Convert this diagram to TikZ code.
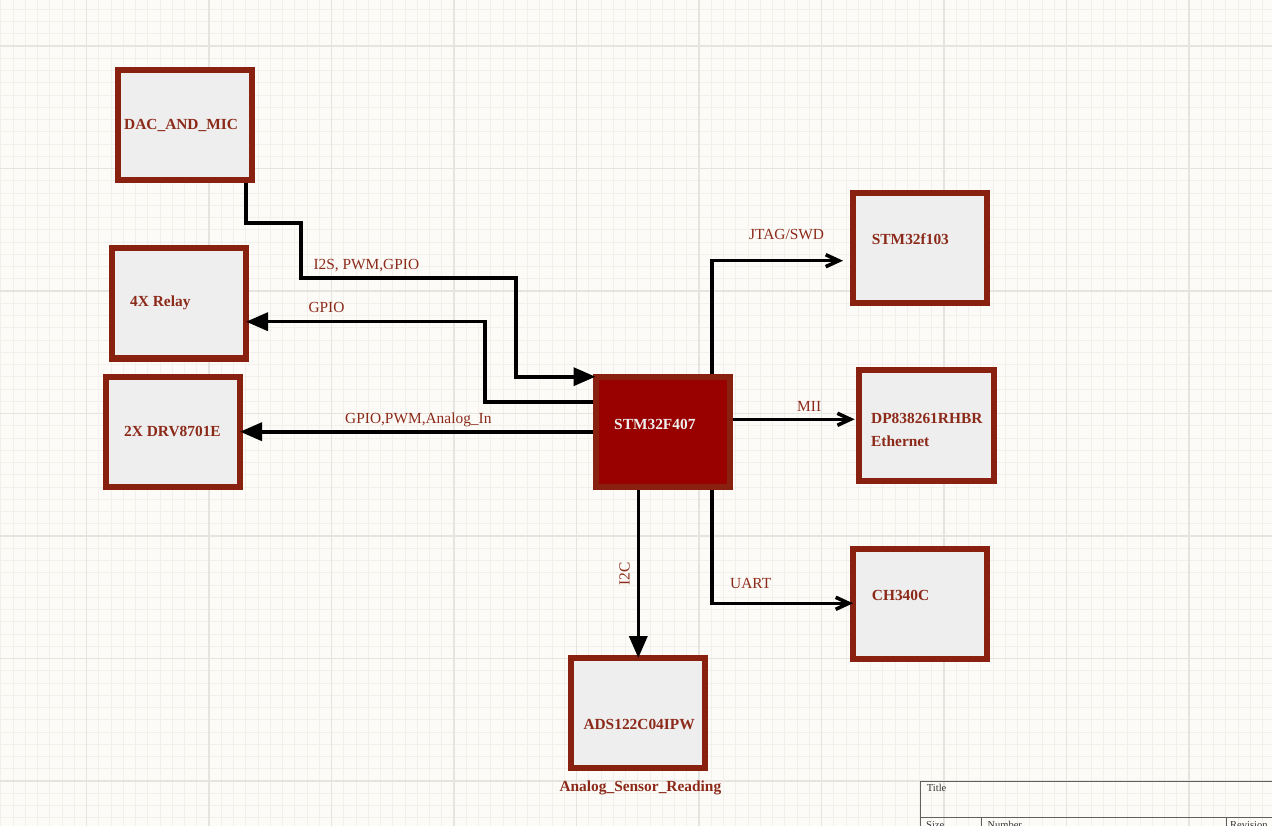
\documentclass[tikz,border=0pt]{standalone}
\usepackage{fontspec}
\setmainfont{Liberation Serif}
\usetikzlibrary{arrows.meta,calc}
\definecolor{bgc}{HTML}{FDFBF7}
\definecolor{minc}{HTML}{F2F0EB}
\definecolor{majc}{HTML}{E6E4DF}
\definecolor{brd}{HTML}{88210F}
\definecolor{boxf}{HTML}{EEEEEE}
\definecolor{mcuf}{HTML}{990000}
\definecolor{lblc}{HTML}{8C2A1A}
\definecolor{tbc}{HTML}{606060}
\tikzset{
  blk/.style={draw=brd, fill=boxf, line width=6pt, minimum width=134pt, minimum height=110pt, inner sep=0pt},
  mcu/.style={blk, fill=mcuf},
  lbl/.style={text=lblc, inner sep=0pt, font=\fontsize{15.4}{18}\selectfont},
  blbl/.style={lbl, font=\fontsize{15.4}{18}\selectfont\bfseries},
  tbt/.style={text=black!80, inner sep=0pt, font=\fontsize{10.5}{12}\selectfont},
  wire/.style={draw=black, line width=3.6pt, line join=miter},
  fa/.style={-{Triangle[length=22pt,width=18pt]}},
  oa/.style={-{Straight Barb[length=13pt,width=12pt]}},
  minorgrid/.style={draw=minc, line width=0.8pt},
  majorgrid/.style={draw=majc, line width=1.1pt},
  tbline/.style={draw=tbc, line width=1pt}
}
\begin{document}
\begin{tikzpicture}[x=1pt,y=-1pt]
\useasboundingbox (0,0) rectangle (1272,826);
\fill[bgc] (0,0) rectangle (1272,826);
\foreach \i in {0,...,103} \draw[minorgrid] ({0.75+12.25*\i},0) -- ({0.75+12.25*\i},826);
\foreach \j in {0,...,67} \draw[minorgrid] (0,{9.25+12.25*\j}) -- (1272,{9.25+12.25*\j});
\foreach \i in {0,...,9} \draw[majorgrid] ({86.5+122.5*\i},0) -- ({86.5+122.5*\i},826);
\foreach \j in {0,...,6} \draw[majorgrid] (0,{46+122.5*\j}) -- (1272,{46+122.5*\j});

% title block
\draw[tbline] (1280,781.7) -- (920,781.7) -- (920,830);
\draw[tbline] (920,817.3) -- (1280,817.3);
\draw[tbline] (981.7,817.3) -- (981.7,830);
\draw[tbline] (1226,817.3) -- (1226,830);
\node[tbt, anchor=base west] (tbtitle) at (926.7,791.7) {Title};
\node[tbt, anchor=base west] (tbsize) at (926,828) {Size};
\node[tbt, anchor=base west] (tbnum) at (987.3,828) {Number};
\node[tbt, anchor=base west] (tbrev) at (1230,828) {Revision};

% blocks
\node[blk] (dac) at (185,125.5) {};
\node[blk] (relay) at (179,303.5) {};
\node[blk] (drv) at (173,432.2) {};
\node[mcu] (stm) at (662.5,432.2) {};
\node[blk] (f103) at (920,248) {};
\node[blk, minimum width=135pt, minimum height=111.3pt] (dp) at (926.2,425.3) {};
\node[blk] (ch) at (920,604) {};
\node[blk] (ads) at (638.3,713) {};

% block texts
\node[blbl, anchor=base west] (tdac) at (124,129.3) {DAC\_AND\_MIC};
\node[blbl, anchor=base west] (trelay) at (130,307) {4X Relay};
\node[blbl, anchor=base west] (tdrv) at (124,436) {2X DRV8701E};
\node[blbl, anchor=base west, text=boxf] (tstm) at (614,429.3) {STM32F407};
\node[blbl, anchor=base west] (tf103) at (871.7,245) {STM32f103};
\node[blbl, anchor=base west] (tdp) at (871,423.3) {DP838261RHBR};
\node[blbl, anchor=base west] (teth) at (871,446.7) {Ethernet};
\node[blbl, anchor=base west] (tch) at (871.7,600.7) {CH340C};
\node[blbl, anchor=base west] (tads) at (583.3,729.3) {ADS122C04IPW};
\node[blbl, anchor=base west] (tasr) at (559.3,791) {Analog\_Sensor\_Reading};

% connectors
\draw[wire,fa] (dac.south -| 245.7,0) |- (301,223.3) |- (516,278.3) |- ($(stm.west |- 0,376.7)+(3,0)$);
\draw[wire,fa] (stm.west |- 0,401.7) -| (485,321.7) -- ($(relay.east |- 0,321.7)+(-3,0)$);
\draw[wire,fa] (stm.west |- 0,431.7) -- ($(drv.east |- 0,431.7)+(-3,0)$);
\draw[wire,oa] (stm.north -| 711.7,0) |- ($(f103.west |- 0,260.7)+(-7,0)$);
\draw[wire,oa] (stm.east |- 0,419.3) -- ($(dp.west |- 0,419.3)+(-1,0)$);
\draw[wire,oa] (stm.south -| 711.7,0) |- ($(ch.west |- 0,603.3)+(3,0)$);
\draw[wire,fa] (stm.south -| 638.3,0) -- ($(ads.north -| 638.3,0)+(0,3)$);

% connector labels
\node[lbl, anchor=base west] (li2s) at (313.3,270) {I2S, PWM,GPIO};
\node[lbl, anchor=base west] (lgpio) at (308.3,312.7) {GPIO};
\node[lbl, anchor=base west] (lgpa) at (345,423.3) {GPIO,PWM,Analog\_In};
\node[lbl, anchor=base west] (ljtag) at (749,239.3) {JTAG/SWD};
\node[lbl, anchor=base west] (lmii) at (797,411) {MII};
\node[lbl, anchor=base west] (luart) at (730,588.7) {UART};
\node[lbl, rotate=90] (li2c) at (624.7,574.2) {I2C};
\end{tikzpicture}
\end{document}
